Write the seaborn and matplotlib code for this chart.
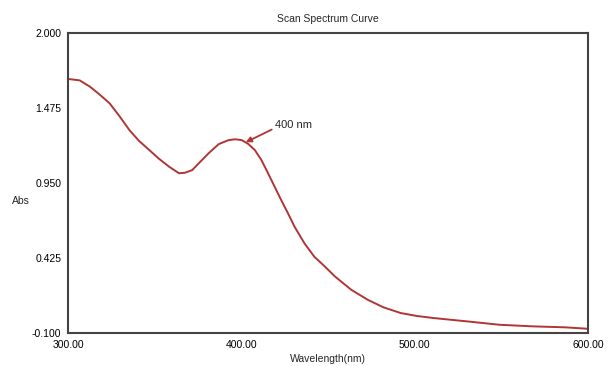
import numpy as np
import pandas as pd
import seaborn as sns
import matplotlib.pyplot as plt

sns.set_style("white")
plt.rcParams['font.family'] = ['Liberation Sans Narrow', 'Liberation Sans', 'DejaVu Sans']

# Wavelength (nm) and absorbance
wavelength = [300, 306.7, 312.6, 318.1, 324.0, 329.5, 335.4, 340.9, 346.9, 352.4,
              358.3, 364.0, 367.5, 371.6, 376.0, 381.1, 386.9, 392.6, 396.5, 400.2,
              404.0, 407.8, 411.6, 415.4, 419.2, 423.0, 426.9, 430.7, 436.4, 442.1,
              447.8, 453.9, 463.4, 472.9, 482.0, 492.0, 501.0, 511.0, 530.0, 549.0,
              568.0, 587.0, 600.0]
absorbance = [1.678, 1.668, 1.624, 1.570, 1.507, 1.420, 1.320, 1.245, 1.180, 1.120,
              1.064, 1.018, 1.022, 1.040, 1.095, 1.158, 1.222, 1.250, 1.256, 1.250,
              1.223, 1.180, 1.110, 1.018, 0.924, 0.830, 0.738, 0.644, 0.528, 0.434,
              0.370, 0.297, 0.203, 0.133, 0.080, 0.040, 0.020, 0.005, -0.018, -0.042,
              -0.053, -0.060, -0.070]

x_ticks = [300, 400, 500, 600]
y_ticks = [-0.100, 0.425, 0.950, 1.475, 2.000]

df = pd.DataFrame({'Wavelength': wavelength, 'Abs': absorbance})

fig = plt.figure(figsize=(6.08, 3.66), dpi=100)
ax = fig.add_axes([0.112, 0.090, 0.855, 0.820])

sns.lineplot(ax=ax, data=df, x='Wavelength', y='Abs', color='#b03535', linewidth=1.4)

ax.set_xlim(300, 600)
ax.set_ylim(-0.1, 2.0)
ax.set_xticks(x_ticks)
ax.set_xticklabels([f'{v:.2f}' for v in x_ticks])
ax.set_yticks(y_ticks)
ax.set_yticklabels([f'{v:.3f}' for v in y_ticks])
ax.tick_params(length=0, labelsize=7.5, colors='black', pad=5)
for s in ax.spines.values():
    s.set_color('#444444')
    s.set_linewidth(1.5)

ax.set_title('Scan Spectrum Curve', fontsize=7.5, pad=8)
ax.set_xlabel('Wavelength(nm)', fontsize=7.5, labelpad=3)
ax.set_ylabel('Abs', fontsize=7.5, rotation=0, va='center', ha='center')
ax.yaxis.set_label_coords(-0.09, 0.44)

ax.annotate('400 nm', xy=(402.5, 1.235), xytext=(419.4, 1.356), fontsize=8,
            va='center',
            arrowprops=dict(arrowstyle='-|>', color='#b03535', lw=1.3,
                            mutation_scale=8, shrinkA=0, shrinkB=0,
                            relpos=(0, 0.2)))

plt.savefig('out.png', dpi=100)
plt.close()
